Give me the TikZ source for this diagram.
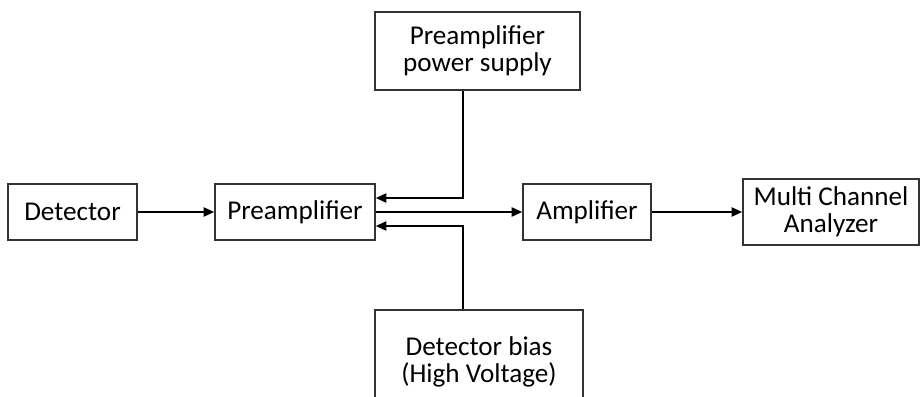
\documentclass[tikz,border=0pt]{standalone}
\usepackage{fontspec}
\setmainfont{Carlito}
\usetikzlibrary{arrows.meta}
\tikzset{
  blk/.style={draw=black!80, line width=1.1pt, align=center, inner sep=0pt,
    font=\fontsize{19.3}{19.5}\selectfont},
  sig/.style={line width=1.3pt, -{Triangle[length=7.5pt, width=6.5pt]}}
}
\begin{document}
\begin{tikzpicture}[x=0.025cm, y=-0.025cm, line join=miter]
			\useasboundingbox (0,0) rectangle (920,396);
			\clip (0,0) rectangle (920,396);
			% Blocks on the signal chain
			\node[blk, minimum width=3.23cm, minimum height=1.4cm] (det) at (72.5,212) {Detector};
			\node[blk, minimum width=4cm, minimum height=1.4cm] (pre) at (295,212) {Preamplifier};
			\node[blk, minimum width=3.2cm, minimum height=1.4cm] (amp) at (587,212) {Amplifier};
			\node[blk, minimum width=4.4cm, minimum height=1.65cm] (mca) at (831,212) {Multi Channel\\Analyzer};
			% Supply blocks above and below
			\node[blk, minimum width=5.13cm, minimum height=1.95cm] (ps) at (477.5,51) {Preamplifier\\power supply};
			\node[blk, minimum width=5.2cm, minimum height=2.6cm] (hv) at (479,362) {Detector bias\\(High Voltage)};
			\coordinate (vx) at (463,0);
			% Connectors
			\draw[sig] (det) -- (pre);
			\draw[sig] (pre) -- (amp);
			\draw[sig] (amp) -- (mca);
			\draw[sig] (ps.south -| vx) |- ([yshift=0.35cm]pre.east);
			\draw[sig] (hv.north -| vx) |- ([yshift=-0.35cm]pre.east);
		\end{tikzpicture}
\end{document}
